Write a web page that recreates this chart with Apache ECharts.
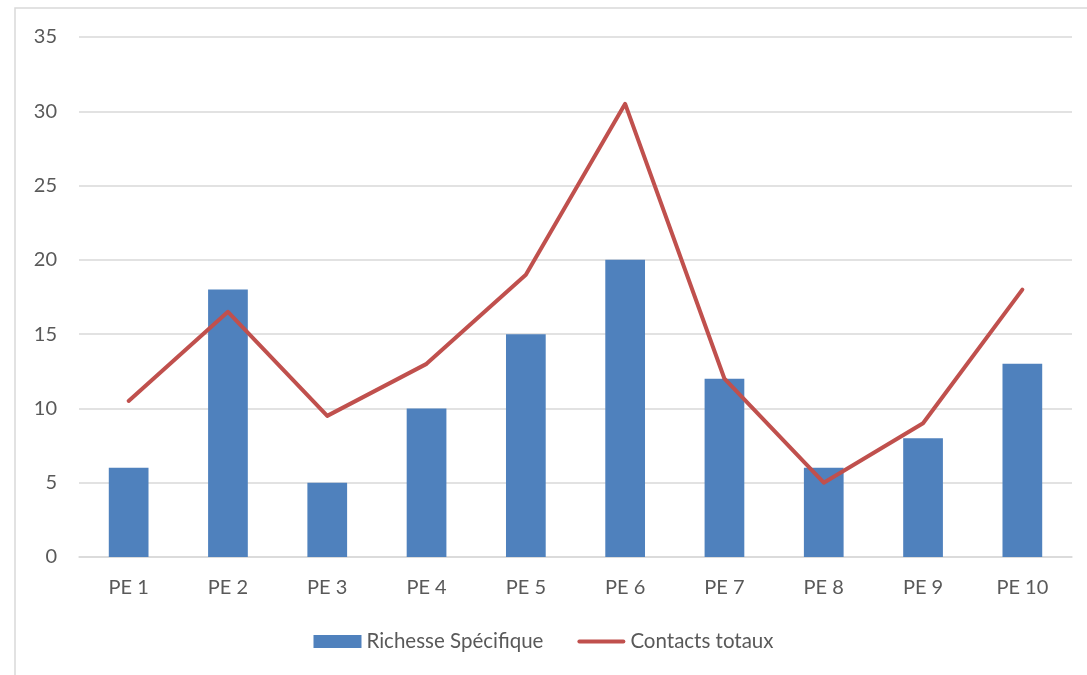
<!DOCTYPE html>
<html>
<head>
<meta charset="utf-8">
<script src="https://cdn.jsdelivr.net/npm/echarts@6/dist/echarts.min.js"></script>
<style>
  html, body { margin: 0; padding: 0; background: #fff; }
  #chart { width: 1087px; height: 675px; }
</style>
</head>
<body>
<div id="chart"></div>
<script>
// Sampling points
const categories = ['PE 1', 'PE 2', 'PE 3', 'PE 4', 'PE 5', 'PE 6', 'PE 7', 'PE 8', 'PE 9', 'PE 10'];
// Species richness per point
const richesse = [6, 18, 5, 10, 15, 20, 12, 6, 8, 13];
// Total contacts per point
const contacts = [10.5, 16.5, 9.5, 13, 19, 30.5, 12, 5, 9, 18];

const FONT = 'Lato, "Open Sans", sans-serif';
const TEXT = '#595959';

const chart = echarts.init(document.getElementById('chart'));
chart.setOption({
  animation: false,
  backgroundColor: '#fff',
  graphic: [{
    type: 'rect',
    shape: { x: 15, y: 8, width: 1100, height: 700 },
    style: { fill: 'none', stroke: '#D9D9D9', lineWidth: 1.5 },
    silent: true
  }],
  grid: { left: 79, right: 15, top: 37, bottom: 118 },
  legend: {
    bottom: 18,
    left: 'center',
    itemGap: 34,
    itemWidth: 48,
    itemHeight: 13,
    textStyle: { fontFamily: FONT, fontSize: 20.5, color: TEXT, padding: [0, 0, 0, 0] },
    data: [
      { name: 'Richesse Spécifique', icon: 'rect' },
      { name: 'Contacts totaux', icon: 'path://M2,0 L46,0 A2,2 0 0 1 46,4 L2,4 A2,2 0 0 1 2,0 Z' }
    ]
  },
  xAxis: {
    type: 'category',
    data: categories,
    axisLine: { lineStyle: { color: '#D9D9D9', width: 1.5 } },
    axisTick: { show: false },
    axisLabel: { fontFamily: FONT, fontSize: 20, color: TEXT, margin: 21 }
  },
  yAxis: {
    type: 'value',
    min: 0,
    max: 35,
    interval: 5,
    axisLine: { show: false },
    axisTick: { show: false },
    splitLine: { lineStyle: { color: '#D9D9D9', width: 1.5 } },
    axisLabel: { fontFamily: FONT, fontSize: 20, color: TEXT, margin: 22 }
  },
  series: [
    {
      name: 'Richesse Spécifique',
      type: 'bar',
      data: richesse,
      barWidth: '40%',
      itemStyle: { color: '#4F81BD' }
    },
    {
      name: 'Contacts totaux',
      type: 'line',
      data: contacts,
      symbol: 'none',
      lineStyle: { color: '#C0504D', width: 4, cap: 'round', join: 'round' },
      itemStyle: { color: '#C0504D' }
    }
  ]
});
</script>
</body>
</html>
